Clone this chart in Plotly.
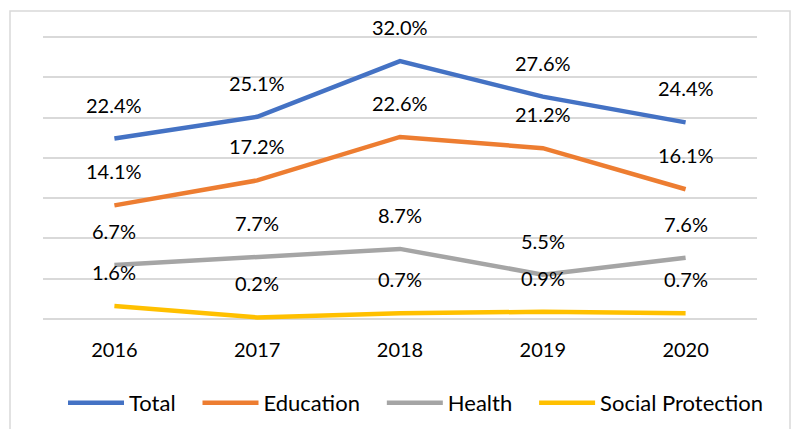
import plotly.graph_objects as go

years = ["2016", "2017", "2018", "2019", "2020"]
total = [22.4, 25.1, 32.0, 27.6, 24.4]
education = [14.1, 17.2, 22.6, 21.2, 16.1]
health = [6.7, 7.7, 8.7, 5.5, 7.6]
social = [1.6, 0.2, 0.7, 0.9, 0.7]

series = [
    ("Total", total, "#4472C4"),
    ("Education", education, "#ED7D31"),
    ("Health", health, "#A5A5A5"),
    ("Social Protection", social, "#FFC000"),
]

FONT = "Lato, 'Open Sans', sans-serif"
PAD = "\u00a0" * 3

fig = go.Figure()
annotations = []
for k, (name, vals, color) in enumerate(series):
    fig.add_trace(go.Scatter(
        x=years, y=vals, name=name + (PAD if k < len(series) - 1 else ""),
        mode="lines",
        line=dict(color=color, width=4.5, shape="linear"),
        hoverinfo="skip",
    ))
    for i, v in enumerate(vals):
        annotations.append(dict(
            x=i, y=v, xref="x", yref="y", text=f"{v:.1f}%",
            showarrow=False, yshift=34,
            font=dict(family=FONT, size=20, color="#000000"),
        ))

W, H = 796, 429
# plot area: x 43..757, y 35..321 (value 0 at 319, 35 at 37)
L, R, T, B = 43, 39, 35, 108
pw = W - L - R
ph = H - T - B
upp = 35 / 282.0
yr = [-2 * upp, 35 + 2 * upp]

def px2py(py):
    return (H - B - py) / ph

shapes = [dict(
    type="rect", xref="paper", yref="paper",
    x0=(10 - L) / pw, x1=(790 - L) / pw,
    y0=px2py(H + 20), y1=px2py(11),
    line=dict(color="#D9D9D9", width=1.5), fillcolor="rgba(0,0,0,0)",
    layer="below",
)]

fig.update_layout(
    width=W, height=H,
    margin=dict(l=L, r=R, t=T, b=B, pad=0, autoexpand=False),
    paper_bgcolor="white", plot_bgcolor="white",
    font=dict(family=FONT, size=20, color="#000000"),
    showlegend=True,
    legend=dict(
        orientation="h", xref="container", x=416 / W, xanchor="center",
        yref="container", y=1 - 403 / H, yanchor="middle",
        font=dict(family=FONT, size=22, color="#000000"),
        itemwidth=56, bgcolor="rgba(0,0,0,0)",
    ),
    annotations=annotations,
    shapes=shapes,
    xaxis=dict(
        type="category", range=[-0.5, 4.5], showgrid=False,
        showline=False, zeroline=False,
        ticks="outside", ticklen=11, tickcolor="rgba(0,0,0,0)",
        tickfont=dict(family=FONT, size=20, color="#000000"),
        fixedrange=True,
    ),
    yaxis=dict(
        range=yr, tickvals=[0, 5, 10, 15, 20, 25, 30, 35],
        showgrid=True, gridcolor="#D9D9D9",
        gridwidth=1.5, showticklabels=False, zeroline=False,
        showline=False, ticks="", fixedrange=True,
    ),
)

fig.write_html("out.html", config={"displayModeBar": False},
               post_script="document.body.style.margin='0';")
